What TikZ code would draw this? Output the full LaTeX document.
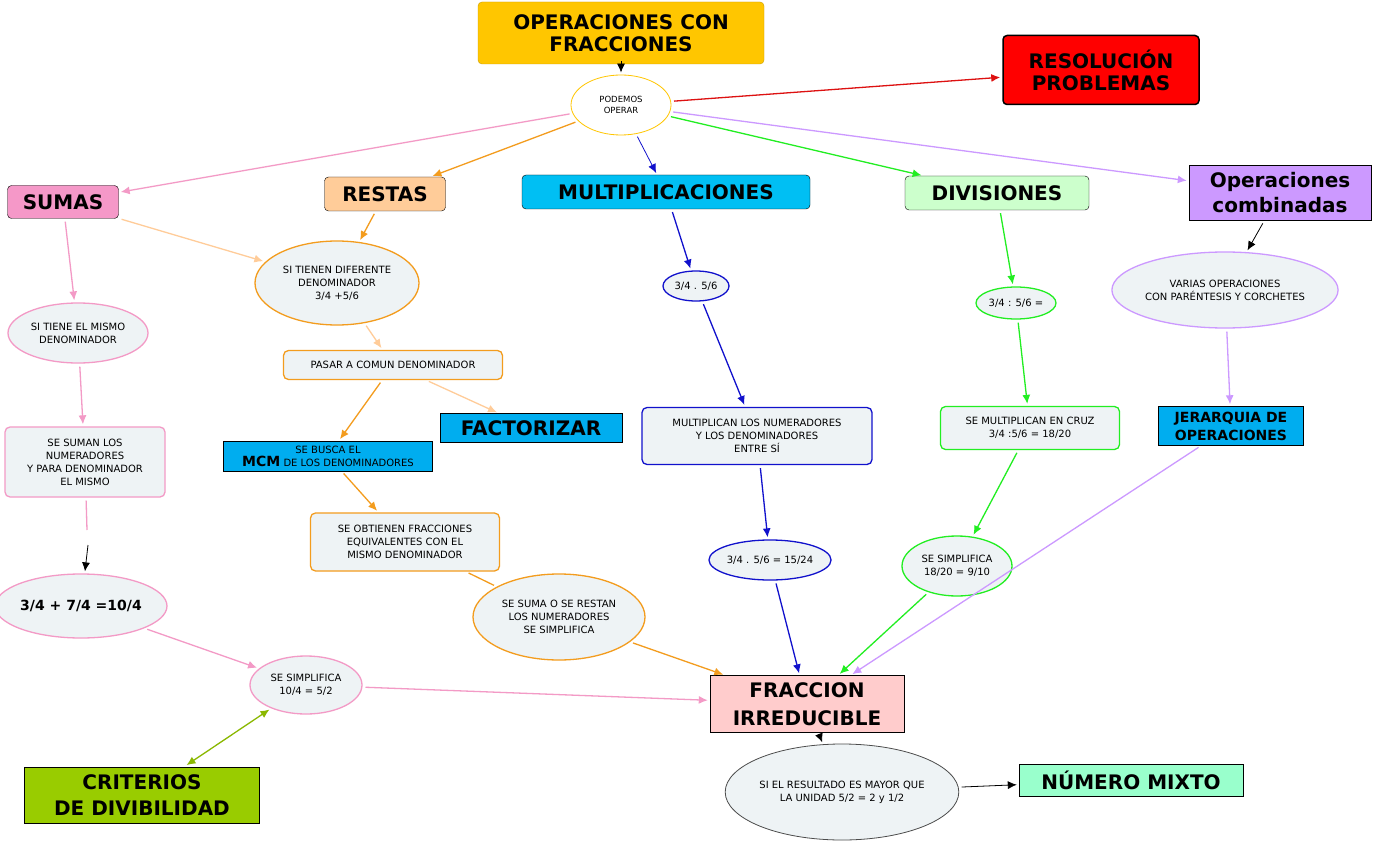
\documentclass[tikz,border=0pt]{standalone}
\usepackage{fontspec}
\setmainfont{DejaVu Sans}
\usetikzlibrary{shapes.geometric,arrows.meta}
\definecolor{gold}{HTML}{FFC600}
\definecolor{pinkf}{HTML}{F598C8}
\definecolor{pinkl}{HTML}{F39AC6}
\definecolor{peach}{HTML}{FFCC99}
\definecolor{oran}{HTML}{F39C1E}
\definecolor{cyanb}{HTML}{00BFF3}
\definecolor{mint}{HTML}{CCFFCC}
\definecolor{lav}{HTML}{CC99FF}
\definecolor{pale}{HTML}{EEF3F5}
\definecolor{grn}{HTML}{22EE22}
\definecolor{blu}{HTML}{1111CC}
\definecolor{olive}{HTML}{99CC00}
\definecolor{rosa}{HTML}{FFCCCC}
\definecolor{aqua}{HTML}{99FFCC}
\definecolor{red2}{HTML}{DD1111}
\begin{document}
\begin{tikzpicture}[x=1pt,y=-1pt,
 big/.style={draw=black,rounded corners=4pt,align=center,font=\fontsize{20}{22}\selectfont\bfseries,inner sep=0pt},
 sq/.style={draw=black,align=center,inner sep=0pt},
 small/.style={align=center,font=\fontsize{10}{13}\selectfont,inner sep=0pt},
 ell/.style={ellipse,draw,line width=1.3pt,fill=pale,small},
 rbox/.style={draw,line width=1.3pt,fill=pale,rounded corners=5pt,small},
 ar/.style={-{Latex[length=9pt,width=8pt]},line width=1.3pt,shorten <=3pt,shorten >=2pt}]
\useasboundingbox (0,0) rectangle (1375,842);
\fill[white] (0,0) rectangle (1375,842);
% nodes
\node[big,fill=gold,draw=gold!80!black,minimum width=286,minimum height=62] (title) at (621,33) {OPERACIONES CON\\FRACCIONES};
\node[ellipse,draw=gold,line width=0.8pt,fill=white,minimum width=100,minimum height=60,small,font=\fontsize{8.5}{11}\selectfont] (pod) at (621,105) {PODEMOS\\OPERAR};
\node[big,fill=red,line width=1.5pt,minimum width=196,minimum height=69] (res) at (1101,70) {RESOLUCIÓN\\PROBLEMAS};
\node[big,fill=pinkf,minimum width=111,minimum height=33] (sum) at (63,202) {SUMAS};
\node[big,fill=peach,minimum width=121,minimum height=34] (rest) at (385,194) {RESTAS};
\node[big,fill=cyanb,minimum width=288,minimum height=34] (mult) at (666,192) {MULTIPLICACIONES};
\node[big,fill=mint,minimum width=184,minimum height=34] (div) at (997,193) {DIVISIONES};
\node[sq,fill=lav,minimum width=182,minimum height=55,font=\fontsize{20}{25}\selectfont\bfseries] (comb) at (1280,193) {Operaciones\\combinadas};
\node[ell,draw=oran,minimum width=164,minimum height=84] (dif) at (337,283) {SI TIENEN DIFERENTE\\DENOMINADOR\\3/4 +5/6};
\node[ell,draw=pinkl,minimum width=140,minimum height=60] (mis) at (78,333) {SI TIENE EL MISMO\\DENOMINADOR};
\node[rbox,draw=oran,minimum width=219,minimum height=29] (pas) at (393,365) {PASAR A COMUN DENOMINADOR};
\node[sq,fill=cyan,minimum width=182,minimum height=29,font=\fontsize{20}{22}\selectfont\bfseries] (fac) at (531,428) {FACTORIZAR};
\node[sq,fill=cyan,minimum width=209,minimum height=30,small] (mcm) at (328,456) {SE BUSCA EL\\{\fontsize{14}{14}\selectfont\bfseries MCM} DE LOS DENOMINADORES};
\node[rbox,draw=oran,minimum width=189,minimum height=58] (obt) at (405,542) {SE OBTIENEN FRACCIONES\\EQUIVALENTES CON EL\\MISMO DENOMINADOR};
\node[ell,draw=oran,minimum width=172,minimum height=86] (sr) at (559,617) {SE SUMA O SE RESTAN\\LOS NUMERADORES\\SE SIMPLIFICA};
\node[rbox,draw=pinkl,minimum width=160,minimum height=70] (ssum) at (85,462) {SE SUMAN LOS\\NUMERADORES\\Y PARA DENOMINADOR\\EL MISMO};
\node[ell,draw=pinkl,minimum width=160,minimum height=64,font=\fontsize{14}{16}\selectfont\bfseries] (ex) at (81,606) {3/4 + 7/4 =10/4};
\node[ell,draw=pinkl,minimum width=112,minimum height=58] (s1) at (306,685) {SE SIMPLIFICA\\10/4 = 5/2};
\node[sq,fill=olive,minimum width=235,minimum height=56,font=\fontsize{20}{26}\selectfont\bfseries] (cri) at (142,795) {CRITERIOS\\DE DIVIBILIDAD};
\node[ell,draw=blu,minimum width=66,minimum height=30] (m1) at (696,286) {3/4 . 5/6};
\node[rbox,draw=blu,minimum width=230,minimum height=57] (mp) at (757,436) {MULTIPLICAN LOS NUMERADORES\\Y LOS DENOMINADORES\\ENTRE SÍ};
\node[ell,draw=blu,minimum width=120,minimum height=40] (m2) at (770,560) {3/4 . 5/6 = 15/24};
\node[sq,fill=rosa,minimum width=194,minimum height=57,font=\fontsize{20}{28}\selectfont\bfseries] (fr) at (807,704) {FRACCION\\IRREDUCIBLE};
\node[ell,draw=grn,minimum width=80,minimum height=32] (d1) at (1016,303) {3/4 : 5/6 =};
\node[rbox,draw=grn,minimum width=179,minimum height=43] (cz) at (1030,428) {SE MULTIPLICAN EN CRUZ\\3/4 :5/6 = 18/20};
\node[ell,draw=grn,minimum width=110,minimum height=60] (d2) at (957,566) {SE SIMPLIFICA\\18/20 = 9/10};
\node[ell,draw=lav,minimum width=216,minimum height=76] (var) at (1225,290) {VARIAS OPERACIONES\\CON PARÉNTESIS Y CORCHETES};
\node[sq,fill=cyan,minimum width=145,minimum height=39,font=\fontsize{14}{18}\selectfont\bfseries] (jer) at (1231,426) {JERARQUIA DE\\OPERACIONES};
\node[ellipse,draw=black!70,line width=0.8pt,fill=pale,small,minimum width=224,minimum height=96] (rs) at (842,792) {SI EL RESULTADO ES MAYOR QUE\\LA UNIDAD 5/2 = 2 y 1/2};
\node[sq,fill=aqua,minimum width=224,minimum height=32,font=\fontsize{20}{22}\selectfont\bfseries] (mx) at (1131,780) {NÚMERO MIXTO};
% edges
\draw[ar,black,line width=0.8pt] (title) -- (pod);
\draw[ar,red2] (pod) -- (res);
\draw[ar,pinkl] (pod) -- (sum);
\draw[ar,oran] (pod) -- (rest);
\draw[ar,blu,line width=0.8pt] (pod) -- (mult);
\draw[ar,grn] (pod) -- (div);
\draw[ar,lav] (pod) -- (comb);
\draw[ar,peach] (sum) -- (dif);
\draw[ar,oran] (rest) -- (dif);
\draw[ar,peach] (dif) -- (pas);
\draw[ar,oran] (pas) -- (mcm);
\draw[ar,peach] (pas) -- (fac);
\draw[ar,oran] (mcm) -- (obt);
\draw[oran,line width=1.3pt,shorten <=3pt,shorten >=3pt] (obt) -- (sr);
\draw[ar,oran] (sr) -- (fr);
\draw[ar,pinkl] (sum) -- (mis);
\draw[ar,pinkl] (mis) -- (ssum);
\draw[pinkl,line width=1.3pt,shorten <=3pt] (ssum) -- (87,530);
\draw[ar,black,line width=0.8pt,shorten <=0pt] (88,545) -- (ex);
\draw[ar,pinkl] (ex) -- (s1);
\draw[ar,pinkl] (s1) -- (fr);
\draw[ar,olive!90!black,{Latex[length=9pt,width=8pt]}-{Latex[length=9pt,width=8pt]}] (cri) -- (s1);
\draw[ar,blu] (mult) -- (m1);
\draw[ar,blu] (m1) -- (mp);
\draw[ar,blu] (mp) -- (m2);
\draw[ar,blu] (m2) -- (fr);
\draw[ar,grn] (div) -- (d1);
\draw[ar,grn] (d1) -- (cz);
\draw[ar,grn] (cz) -- (d2);
\draw[ar,grn] (d2) -- (fr);
\draw[ar,black,line width=0.8pt] (comb) -- (var);
\draw[ar,lav] (var) -- (jer);
\draw[ar,lav] (jer) -- (fr);
\draw[ar,black,line width=0.8pt] (fr) -- (rs);
\draw[ar,black,line width=0.8pt] (rs) -- (mx);
\end{tikzpicture}
\end{document}
